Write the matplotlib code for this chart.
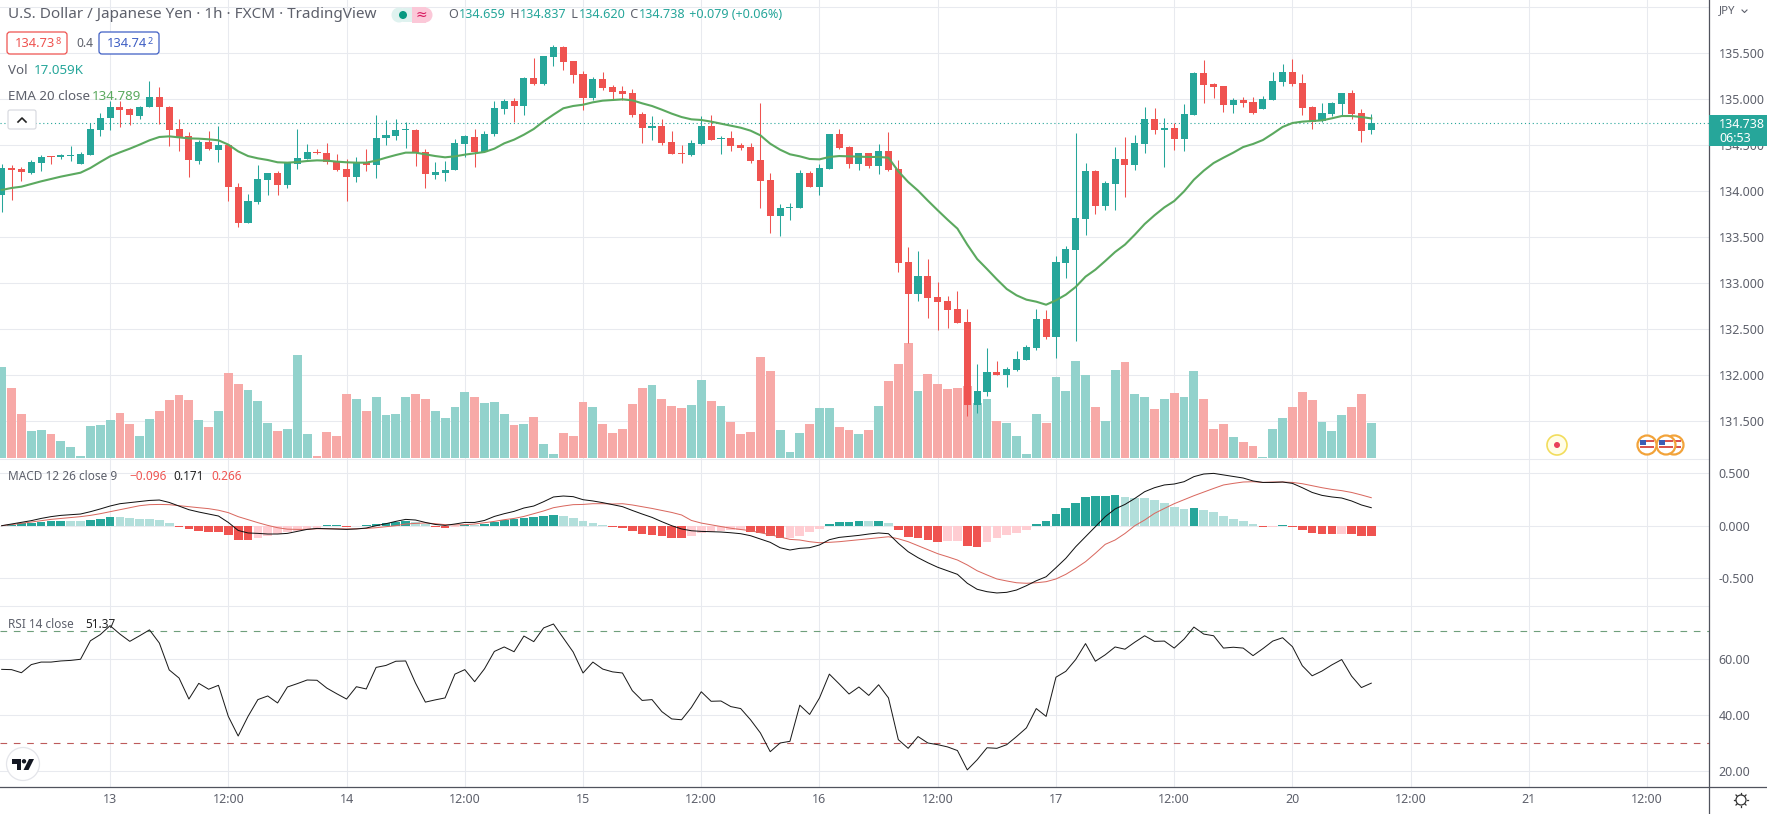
"""USD/JPY 1h chart with volume, EMA, MACD and RSI panes."""

import matplotlib
matplotlib.use("Agg")
import matplotlib.pyplot as plt
from matplotlib.patches import Rectangle, Circle, FancyBboxPatch, Polygon

plt.rcParams["font.family"] = ["Noto Sans", "DejaVu Sans"]

opens = [
    133.96, 134.254, 134.243, 134.196, 134.308, 134.377, 134.366, 134.377, 134.297, 134.395,
    134.667, 134.790, 134.913, 134.891, 134.819, 134.909, 135.022, 134.917, 134.674, 134.601,
    134.330, 134.533, 134.449, 134.504, 134.047, 133.649, 133.884, 134.123, 134.199, 134.062,
    134.290, 134.348, 134.428, 134.417, 134.322, 134.243, 134.149, 134.312, 134.279, 134.572,
    134.601, 134.659, 134.667, 134.424, 134.178, 134.199, 134.225, 134.514, 134.587, 134.420,
    134.616, 134.895, 134.982, 134.928, 135.232, 135.167, 135.460, 135.569, 135.417, 135.275,
    135.011, 135.221, 135.134, 135.091, 135.069, 134.841, 134.688, 134.710, 134.533, 134.413,
    134.395, 134.514, 134.710, 134.565, 134.580, 134.504, 134.482, 134.341, 134.123, 133.732,
    133.815, 133.819, 134.196, 134.047, 134.243, 134.623, 134.482, 134.297, 134.417, 134.275,
    134.438, 134.243, 133.232, 132.884, 133.080, 132.851, 132.808, 132.721, 132.580, 131.678,
    131.819, 132.036, 132.004, 132.058, 132.167, 132.297, 132.612, 132.417, 133.221, 133.362,
    133.699, 134.221, 133.841, 134.080, 134.351, 134.286, 134.514, 134.786, 134.667, 134.688,
    134.569, 134.830, 135.286, 135.167, 135.145, 134.938, 134.993, 134.971, 134.895, 134.993,
    135.188, 135.297, 135.178, 134.917, 134.761, 134.841, 134.949, 135.069, 134.851, 134.659,
]
highs = [
    134.297, 134.286, 134.257, 134.341, 134.395, 134.384, 134.406, 134.493, 134.424, 134.739,
    134.848, 134.975, 134.975, 134.902, 134.920, 135.199, 135.130, 134.928, 134.783, 134.641,
    134.551, 134.656, 134.710, 134.514, 134.087, 133.967, 134.286, 134.199, 134.217, 134.312,
    134.678, 134.511, 134.457, 134.522, 134.406, 134.348, 134.370, 134.460, 134.830, 134.768,
    134.783, 134.750, 134.674, 134.457, 134.315, 134.322, 134.565, 134.612, 134.674, 134.656,
    134.982, 135.000, 135.011, 135.243, 135.449, 135.471, 135.591, 135.572, 135.417, 135.301,
    135.239, 135.297, 135.156, 135.145, 135.109, 134.862, 134.819, 134.786, 134.652, 134.500,
    134.558, 134.819, 134.830, 134.601, 134.656, 134.525, 134.525, 134.960, 134.196, 133.862,
    133.873, 134.232, 134.221, 134.297, 134.623, 134.678, 134.493, 134.417, 134.417, 134.514,
    134.645, 134.341, 133.395, 133.351, 133.264, 133.014, 132.862, 132.917, 132.717, 132.120,
    132.297, 132.156, 132.091, 132.264, 132.330, 132.721, 132.710, 133.297, 133.406, 134.634,
    134.308, 134.232, 134.112, 134.482, 134.591, 134.612, 134.917, 134.906, 134.797, 134.743,
    134.949, 135.297, 135.428, 135.178, 135.145, 135.014, 135.025, 135.025, 135.036, 135.297,
    135.384, 135.438, 135.275, 134.928, 134.960, 134.971, 135.069, 135.101, 134.895, 134.837,
]
lows = [
    133.768, 133.899, 134.112, 134.181, 134.221, 134.297, 134.348, 134.322, 134.297, 134.395,
    134.594, 134.667, 134.692, 134.721, 134.786, 134.909, 134.728, 134.486, 134.431, 134.149,
    134.297, 134.449, 134.312, 133.888, 133.605, 133.649, 133.855, 133.960, 133.953, 134.029,
    134.236, 134.348, 134.402, 134.293, 134.214, 133.888, 134.094, 134.214, 134.141, 134.496,
    134.551, 134.467, 134.268, 134.029, 134.134, 134.112, 134.225, 134.370, 134.257, 134.420,
    134.601, 134.841, 134.754, 134.830, 135.149, 135.149, 135.362, 135.319, 135.178, 134.884,
    134.993, 135.094, 134.996, 134.993, 134.808, 134.525, 134.558, 134.504, 134.399, 134.308,
    134.384, 134.504, 134.558, 134.406, 134.438, 134.442, 134.308, 133.819, 133.547, 133.514,
    133.688, 133.819, 134.047, 133.960, 134.243, 134.460, 134.254, 134.232, 134.254, 134.188,
    134.221, 133.123, 132.348, 132.808, 132.623, 132.493, 132.514, 132.569, 131.551, 131.587,
    131.768, 132.004, 131.873, 132.047, 132.167, 132.275, 132.395, 132.188, 133.058, 132.373,
    133.525, 133.754, 133.797, 133.797, 133.938, 134.232, 134.417, 134.623, 134.264, 134.449,
    134.438, 134.830, 134.960, 135.014, 134.862, 134.851, 134.917, 134.841, 134.895, 134.993,
    135.138, 135.145, 134.830, 134.678, 134.754, 134.819, 134.830, 134.786, 134.536, 134.620,
]
closes = [
    134.25, 134.232, 134.203, 134.315, 134.373, 134.366, 134.388, 134.395, 134.402, 134.674,
    134.797, 134.913, 134.884, 134.822, 134.917, 135.022, 134.909, 134.667, 134.587, 134.333,
    134.536, 134.453, 134.500, 134.040, 133.649, 133.895, 134.134, 134.199, 134.062, 134.301,
    134.359, 134.424, 134.409, 134.312, 134.232, 134.149, 134.312, 134.279, 134.580, 134.612,
    134.663, 134.670, 134.417, 134.181, 134.210, 134.228, 134.525, 134.594, 134.428, 134.623,
    134.906, 134.982, 134.928, 135.232, 135.167, 135.471, 135.569, 135.406, 135.264, 135.014,
    135.221, 135.123, 135.080, 135.058, 134.830, 134.688, 134.707, 134.522, 134.406, 134.399,
    134.525, 134.710, 134.558, 134.580, 134.493, 134.471, 134.330, 134.112, 133.732, 133.819,
    133.830, 134.199, 134.047, 134.254, 134.623, 134.471, 134.297, 134.417, 134.275, 134.438,
    134.232, 133.221, 132.884, 133.080, 132.841, 132.797, 132.710, 132.569, 131.678, 131.830,
    132.036, 132.004, 132.069, 132.178, 132.308, 132.612, 132.417, 133.232, 133.373, 133.710,
    134.221, 133.841, 134.091, 134.351, 134.286, 134.525, 134.786, 134.667, 134.685, 134.569,
    134.841, 135.286, 135.156, 135.134, 134.938, 134.993, 134.960, 134.851, 135.004, 135.199,
    135.297, 135.167, 134.906, 134.754, 134.851, 134.960, 135.069, 134.841, 134.656, 134.738,
]
ema20 = [
    134.011, 134.033, 134.047, 134.076, 134.105, 134.130, 134.156, 134.178, 134.199, 134.250,
    134.315, 134.377, 134.420, 134.460, 134.504, 134.551, 134.587, 134.594, 134.583, 134.572,
    134.569, 134.562, 134.551, 134.504, 134.431, 134.380, 134.355, 134.337, 134.312, 134.308,
    134.315, 134.326, 134.333, 134.330, 134.319, 134.312, 134.308, 134.308, 134.330, 134.362,
    134.391, 134.417, 134.417, 134.399, 134.380, 134.366, 134.377, 134.395, 134.409, 134.424,
    134.460, 134.518, 134.558, 134.612, 134.674, 134.757, 134.830, 134.899, 134.924, 134.938,
    134.964, 134.982, 134.989, 134.996, 134.986, 134.953, 134.924, 134.884, 134.841, 134.804,
    134.779, 134.772, 134.754, 134.732, 134.710, 134.688, 134.656, 134.605, 134.514, 134.449,
    134.399, 134.377, 134.348, 134.344, 134.370, 134.380, 134.377, 134.373, 134.370, 134.370,
    134.362, 134.214, 134.098, 134.004, 133.895, 133.790, 133.688, 133.591, 133.417, 133.261,
    133.152, 133.040, 132.935, 132.866, 132.819, 132.797, 132.764, 132.812, 132.873, 132.957,
    133.069, 133.145, 133.239, 133.337, 133.417, 133.525, 133.641, 133.736, 133.822, 133.891,
    133.996, 134.123, 134.221, 134.304, 134.362, 134.417, 134.478, 134.511, 134.554, 134.623,
    134.696, 134.739, 134.754, 134.761, 134.768, 134.790, 134.815, 134.815, 134.804, 134.789,
]
volume_k = [
    44.3, 34.1, 21.4, 13.1, 13.6, 11.7, 8.3, 5.4, 1.0, 15.6,
    16.1, 18.5, 21.9, 16.6, 10.7, 19.0, 22.9, 28.2, 30.7, 28.2,
    18.5, 15.1, 22.9, 41.4, 36.0, 33.1, 27.8, 17.0, 13.1, 14.1,
    50.2, 11.7, 1.0, 12.7, 10.7, 31.2, 28.7, 22.9, 29.7, 20.9,
    21.4, 29.7, 31.2, 28.7, 22.9, 19.5, 24.8, 32.1, 29.7, 26.8,
    27.3, 21.4, 16.1, 16.6, 20.0, 6.8, 1.9, 12.2, 10.7, 27.3,
    24.8, 16.6, 12.2, 14.1, 26.3, 34.1, 35.6, 28.7, 25.3, 24.4,
    25.8, 38.0, 27.8, 25.3, 17.5, 11.7, 12.7, 49.2, 42.4, 13.6,
    2.9, 12.2, 16.6, 24.4, 24.4, 15.1, 13.6, 11.7, 13.6, 25.3,
    37.5, 45.8, 56.0, 32.6, 40.9, 36.0, 33.6, 34.1, 35.1, 26.8,
    28.7, 18.0, 17.0, 10.7, 1.9, 21.4, 17.0, 39.4, 32.6, 47.2,
    40.4, 24.8, 18.0, 42.9, 46.8, 31.2, 29.7, 23.9, 28.7, 31.7,
    29.7, 42.4, 28.7, 14.1, 16.6, 10.2, 7.8, 5.8, 0.5, 14.1,
    19.5, 24.8, 32.1, 28.2, 17.5, 13.1, 20.9, 24.8, 31.2, 17.059,
]
macd_line = [
    0.000, 0.016, 0.031, 0.048, 0.069, 0.086, 0.098, 0.105, 0.111, 0.133,
    0.159, 0.187, 0.209, 0.219, 0.228, 0.240, 0.244, 0.221, 0.187, 0.152,
    0.130, 0.111, 0.092, 0.031, -0.045, -0.069, -0.073, -0.079, -0.079, -0.073,
    -0.054, -0.035, -0.026, -0.029, -0.031, -0.035, -0.031, -0.022, 0.000, 0.019,
    0.041, 0.060, 0.054, 0.031, 0.012, 0.003, 0.016, 0.031, 0.031, 0.050,
    0.088, 0.114, 0.136, 0.168, 0.187, 0.228, 0.273, 0.282, 0.276, 0.247,
    0.235, 0.219, 0.200, 0.181, 0.145, 0.111, 0.079, 0.038, 0.000, -0.031,
    -0.048, -0.054, -0.057, -0.060, -0.067, -0.076, -0.095, -0.126, -0.158, -0.209,
    -0.231, -0.215, -0.209, -0.183, -0.133, -0.111, -0.102, -0.092, -0.079, -0.069,
    -0.076, -0.167, -0.247, -0.304, -0.352, -0.395, -0.428, -0.462, -0.547, -0.604,
    -0.627, -0.639, -0.633, -0.611, -0.570, -0.523, -0.485, -0.399, -0.310, -0.200,
    -0.105, -0.010, 0.086, 0.159, 0.202, 0.259, 0.323, 0.361, 0.387, 0.396,
    0.418, 0.466, 0.491, 0.497, 0.482, 0.468, 0.453, 0.425, 0.411, 0.411,
    0.415, 0.402, 0.361, 0.316, 0.288, 0.273, 0.263, 0.235, 0.197, 0.171,
]
signal_line = [
    0.000, 0.010, 0.022, 0.035, 0.048, 0.060, 0.069, 0.079, 0.086, 0.098,
    0.114, 0.133, 0.152, 0.171, 0.190, 0.200, 0.202, 0.200, 0.190, 0.181,
    0.171, 0.162, 0.147, 0.124, 0.086, 0.057, 0.029, 0.003, -0.019, -0.033,
    -0.035, -0.035, -0.029, -0.029, -0.029, -0.031, -0.029, -0.026, -0.019, -0.010,
    0.000, 0.016, 0.022, 0.026, 0.019, 0.010, 0.007, 0.010, 0.016, 0.029,
    0.041, 0.057, 0.069, 0.088, 0.114, 0.140, 0.171, 0.187, 0.200, 0.202,
    0.209, 0.209, 0.206, 0.209, 0.197, 0.181, 0.164, 0.145, 0.126, 0.102,
    0.050, 0.025, 0.008, -0.008, -0.024, -0.036, -0.048, -0.067, -0.086, -0.107,
    -0.130, -0.136, -0.152, -0.162, -0.158, -0.152, -0.143, -0.133, -0.124, -0.114,
    -0.105, -0.124, -0.152, -0.190, -0.228, -0.266, -0.295, -0.326, -0.373, -0.428,
    -0.468, -0.506, -0.525, -0.542, -0.547, -0.542, -0.532, -0.506, -0.462, -0.405,
    -0.342, -0.262, -0.177, -0.136, -0.074, 0.000, 0.054, 0.117, 0.164, 0.209,
    0.247, 0.285, 0.320, 0.354, 0.387, 0.402, 0.415, 0.418, 0.411, 0.415,
    0.415, 0.411, 0.399, 0.380, 0.361, 0.345, 0.333, 0.316, 0.292, 0.266,
]
macd_hist = [
    0.000, 0.010, 0.028, 0.030, 0.038, 0.040, 0.048, 0.047, 0.046, 0.057,
    0.067, 0.085, 0.084, 0.076, 0.067, 0.066, 0.057, 0.028, -0.010, -0.028,
    -0.048, -0.057, -0.058, -0.086, -0.133, -0.134, -0.114, -0.095, -0.076, -0.057,
    -0.048, -0.038, -0.019, 0.010, 0.011, -0.014, -0.005, 0.005, 0.019, 0.029,
    0.033, 0.048, 0.038, 0.019, -0.010, -0.024, -0.014, 0.010, 0.009, 0.019,
    0.038, 0.057, 0.067, 0.076, 0.086, 0.095, 0.105, 0.095, 0.076, 0.048,
    0.028, 0.010, -0.010, -0.024, -0.048, -0.076, -0.086, -0.095, -0.114, -0.119,
    -0.095, -0.071, -0.057, -0.048, -0.038, -0.037, -0.057, -0.067, -0.095, -0.114,
    -0.113, -0.095, -0.057, -0.029, 0.014, 0.033, 0.038, 0.048, 0.046, 0.048,
    0.029, -0.043, -0.105, -0.114, -0.133, -0.152, -0.147, -0.143, -0.190, -0.204,
    -0.152, -0.114, -0.086, -0.071, -0.043, 0.019, 0.043, 0.114, 0.171, 0.219,
    0.276, 0.280, 0.285, 0.295, 0.276, 0.266, 0.261, 0.247, 0.219, 0.181,
    0.162, 0.171, 0.152, 0.133, 0.088, 0.060, 0.041, 0.012, -0.012, -0.010,
    0.005, -0.014, -0.043, -0.069, -0.079, -0.080, -0.078, -0.081, -0.095, -0.096,
]
rsi_values = [
    56.3, 56.2, 55.1, 58.0, 58.9, 58.9, 59.3, 59.5, 59.9, 66.5,
    68.7, 71.9, 68.9, 66.3, 68.3, 70.4, 65.7, 56.1, 53.2, 45.7,
    51.3, 49.2, 50.6, 39.5, 32.5, 39.5, 45.5, 46.8, 44.3, 50.0,
    51.2, 52.5, 52.4, 49.6, 47.6, 45.7, 50.1, 49.3, 57.0, 57.7,
    59.2, 59.3, 51.4, 44.6, 45.4, 46.1, 54.6, 56.2, 51.9, 56.5,
    62.7, 64.3, 62.6, 68.2, 66.2, 71.1, 72.5, 67.5, 62.5, 55.0,
    58.9, 56.4, 55.4, 55.0, 48.7, 45.2, 45.5, 41.2, 38.6, 38.3,
    42.7, 48.3, 44.9, 45.0, 43.0, 42.3, 38.3, 33.6, 26.9, 30.0,
    30.6, 43.5, 40.2, 46.1, 54.6, 51.1, 47.5, 50.0, 47.0, 50.8,
    46.1, 31.2, 28.1, 32.3, 30.0, 29.4, 28.6, 27.3, 20.4, 24.0,
    28.3, 28.1, 29.4, 32.3, 35.4, 42.3, 39.5, 53.5, 55.6, 59.8,
    65.5, 59.2, 61.5, 64.3, 63.5, 66.0, 68.3, 66.3, 66.4, 63.9,
    67.1, 71.4, 68.9, 68.3, 63.9, 64.2, 63.9, 61.2, 63.7, 66.4,
    67.6, 64.4, 57.6, 54.0, 55.7, 57.9, 59.8, 53.9, 49.8, 51.37,
]
assert all(len(s) == 140 for s in (opens, highs, lows, closes, ema20, volume_k,
                                   macd_line, signal_line, macd_hist, rsi_values))

time_ticks = [11, 23, 35, 47, 59, 71, 83, 95, 107, 119, 131, 143, 155, 167]
time_labels = ["13", "12:00", "14", "12:00", "15", "12:00", "16", "12:00",
               "17", "12:00", "20", "12:00", "21", "12:00"]
price_ticks = [131.5, 132.0, 132.5, 133.0, 133.5, 134.0, 134.5, 135.0, 135.5, 136.0]
price_labels = ["131.500", "132.000", "132.500", "133.000", "133.500",
                "134.000", "134.500", "135.000", "135.500", ""]
macd_ticks = [-0.5, 0.0, 0.5]
macd_labels = ["-0.500", "0.000", "0.500"]
rsi_ticks = [20, 40, 60]
rsi_labels = ["20.00", "40.00", "60.00"]

UP = "#26a69a"
DOWN = "#ef5350"
GRID = "#e8eaef"
TEXT = "#5d606b"
W, H = 1767, 814
AXIS_X = 1709
X0, DX = 1.7, 9.853


def pane(top, bottom):
    """Axes spanning the chart width between two pixel rows."""
    ax = fig.add_axes([0, 1 - bottom / H, AXIS_X / W, (bottom - top) / H])
    ax.set_xlim(-X0 / DX, (AXIS_X - X0) / DX)
    for side in ["left", "right", "bottom"]:
        ax.spines[side].set_visible(False)
    ax.spines["top"].set_color(GRID)
    ax.spines["top"].set_linewidth(0.75)
    ax.set_xticks(time_ticks)
    ax.grid(True, color=GRID, linewidth=0.75)
    ax.set_axisbelow(True)
    ax.tick_params(axis="both", length=0, labelbottom=False, labelleft=False,
                   labelright=True, right=False, left=False, pad=7,
                   labelsize=9, labelcolor=TEXT)
    ax.yaxis.tick_right()
    return ax


fig = plt.figure(figsize=(W / 100, H / 100), dpi=100, facecolor="white")
idx = list(range(len(closes)))
rising = [c >= o for o, c in zip(opens, closes)]

# --- price pane: grid below, then volume, then candles ---
MAIN_BOTTOM = 458.5
ax_main = pane(0, MAIN_BOTTOM)
ax_main.spines["top"].set_visible(False)
ax_main.set_ylim(135 - (MAIN_BOTTOM - 99) / 92, 135 + 99 / 92)
ax_vol = ax_main.twinx()
ax_vol.set_ylim(-0.2, MAIN_BOTTOM * 0.487)
ax_vol.axis("off")
ax_candles = ax_main.twinx()
ax_candles.set_ylim(ax_main.get_ylim())
ax_candles.axis("off")
ax_main.set_yticks(price_ticks)
ax_main.set_yticklabels(price_labels)
ax_main.yaxis.tick_right()
ax_main.tick_params(axis="y", length=0, right=False, labelright=True)

ax_vol.bar(idx, volume_k, width=0.9, linewidth=0,
           color=["#92d2cc" if r else "#f7a9a7" for r in rising])

candle_colors = [UP if r else DOWN for r in rising]
ax_candles.vlines(idx, lows, highs, colors=candle_colors, linewidth=0.75)
ax_candles.bar(idx, [max(abs(c - o), 0.012) for o, c in zip(opens, closes)],
               bottom=[min(o, c) for o, c in zip(opens, closes)],
               width=0.72, color=candle_colors, linewidth=0)
ax_candles.plot(idx, ema20, color="#5ba95f", linewidth=1.5, solid_joinstyle="round")
ax_candles.axhline(closes[-1], color=UP, linewidth=0.8, linestyle=(0, (1, 2.5)), zorder=0.5)

# --- MACD pane ---
ax_macd = pane(MAIN_BOTTOM, 606)
ax_macd.set_ylim((525.7 - 606) * 0.0095, (525.7 - MAIN_BOTTOM) * 0.0095)
ax_macd.set_yticks(macd_ticks)
ax_macd.set_yticklabels(macd_labels)
hist_colors = []
for i, v in enumerate(macd_hist):
    prev = macd_hist[i - 1] if i else 0
    if v >= 0:
        hist_colors.append(UP if v >= prev else "#b2dfdb")
    else:
        hist_colors.append(DOWN if v < prev else "#ffcdd2")
ax_macd.bar(idx, macd_hist, width=0.88, color=hist_colors, linewidth=0)
ax_macd.plot(idx, signal_line, color="#d9685f", linewidth=0.72)
ax_macd.plot(idx, macd_line, color="#111111", linewidth=0.72)

# --- RSI pane ---
ax_rsi = pane(606, 787)
ax_rsi.set_ylim(70 - (787 - 631) / 2.8, 70 + (631 - 606) / 2.8)
ax_rsi.set_yticks(rsi_ticks)
ax_rsi.set_yticklabels(rsi_labels)
ax_rsi.set_xticklabels(time_labels)
ax_rsi.tick_params(axis="x", labelbottom=True, pad=4, labelsize=9, labelcolor=TEXT)
ax_rsi.axhline(70, color="#6f9f7c", linewidth=0.8, linestyle=(0, (6, 6)))
ax_rsi.axhline(30, color="#bd5b5b", linewidth=0.8, linestyle=(0, (6, 6)))
ax_rsi.plot(idx, rsi_values, color="#1a1a1a", linewidth=0.72)

# --- overlay in pixel coordinates for the terminal furniture ---
ov = fig.add_axes([0, 0, 1, 1], zorder=20)
ov.set_xlim(0, W)
ov.set_ylim(H, 0)
ov.axis("off")
ov.patch.set_visible(False)

ov.plot([AXIS_X, AXIS_X], [0, H], color="#50535e", linewidth=0.9)
ov.plot([0, W], [787, 787], color="#50535e", linewidth=0.9)


def run_text(x, y, pieces, size=10):
    """Write coloured pieces one after the other and return the end x."""
    renderer = fig.canvas.get_renderer()
    for s, color in pieces:
        t = ov.text(x, y, s, color=color, fontsize=size, va="center", ha="left")
        x = t.get_window_extent(renderer).x1 + 1
    return x


run_text(8, 15, [("U.S. Dollar / Japanese Yen · 1h · FXCM · TradingView", TEXT)], size=11)
ov.add_patch(FancyBboxPatch((398, 8), 28, 14, boxstyle="round,pad=0,rounding_size=7",
                            facecolor="#dff2ef", edgecolor="none",
                            mutation_aspect=1))
ov.add_patch(Rectangle((412, 7), 14, 16, facecolor="#fbc8d8", edgecolor="none"))
ov.add_patch(Circle((425, 15), 7.5, facecolor="#fbc8d8", edgecolor="none"))
ov.add_patch(Circle((399, 15), 7.5, facecolor="#dff2ef", edgecolor="none"))
ov.add_patch(Circle((403, 15), 4, facecolor="#089981", edgecolor="none"))
ov.text(421, 15, "≈", color="#d81b60", fontsize=10, ha="center", va="center")
run_text(448, 15, [("O", TEXT), ("134.659", UP), (" H", TEXT), ("134.837", UP), (" L", TEXT),
                   ("134.620", UP), (" C", TEXT), ("134.738", UP), (" +0.079 (+0.06%)", UP)],
         size=9.1)

# bid / ask boxes
for x0, color, main, tail in [(7, DOWN, "134.73", "8"), (99, "#3f5fc4", "134.74", "2")]:
    ov.add_patch(FancyBboxPatch((x0, 32), 60, 22, boxstyle="round,pad=0,rounding_size=3",
                                facecolor="white", edgecolor=color, linewidth=0.9))
    end = run_text(x0 + 8, 43.5, [(main, color)], size=9.3)
    ov.text(end - 1, 41, tail, color=color, fontsize=6.5, va="center", ha="left")
ov.text(76, 43.5, "0.4", color=TEXT, fontsize=8.6, va="center", ha="left")

run_text(8, 71, [("Vol", TEXT)], size=9.6)
run_text(34, 71, [("17.059K", UP)], size=9.6)
run_text(8, 96, [("EMA 20 close", TEXT)], size=9.6)
run_text(92, 96, [("134.789", "#5ba95f")], size=9.6)

ov.add_patch(FancyBboxPatch((8, 110), 28, 19, boxstyle="round,pad=0,rounding_size=2",
                            facecolor="white", edgecolor="#d5d7dd", linewidth=0.8))
ov.plot([18, 22, 26], [122, 118, 122], color="#222222", linewidth=1.2)

run_text(8, 476, [("MACD 12 26 close 9", TEXT)], size=8.5)
run_text(129, 476, [("−0.096", DOWN)], size=8.5)
run_text(173, 476, [("0.171", "#222222")], size=8.5)
run_text(211, 476, [("0.266", DOWN)], size=8.5)
run_text(8, 624, [("RSI 14 close", TEXT)], size=8.5)
run_text(85, 624, [("51.37", "#222222")], size=8.5)

# currency label and last price tag on the scale
ov.text(1719, 11, "JPY", color=TEXT, fontsize=8.2, va="center", ha="left")
ov.plot([1742, 1744.5, 1747], [10, 12.5, 10], color=TEXT, linewidth=0.8)
ov.add_patch(Rectangle((AXIS_X, 115), W - AXIS_X, 31, facecolor=UP, edgecolor="none", zorder=5))
ov.text(1719, 124, "134.738", color="white", fontsize=9, va="center", ha="left", zorder=6)
ov.text(1719, 138, "06:53", color="white", fontsize=9, va="center", ha="left", zorder=6)

# logo
ov.add_patch(Circle((23, 764), 16.5, facecolor="white", edgecolor="#e4e5ea", linewidth=0.9))
ov.add_patch(Polygon([(12, 759), (21, 759), (21, 770), (16.5, 770), (16.5, 763.5), (12, 763.5)],
                     facecolor="#131722", edgecolor="none"))
ov.add_patch(Circle((24, 761.3), 2.2, facecolor="#131722", edgecolor="none"))
ov.add_patch(Polygon([(29, 759), (34, 759), (28.5, 770), (23.5, 770)],
                     facecolor="#131722", edgecolor="none"))

# settings wheel
ov.add_patch(Circle((1741, 800), 5, facecolor="none", edgecolor="#333333", linewidth=0.9))
for dx, dy in [(0, -7), (0, 7), (-7, 0), (7, 0), (-5, -5), (5, -5), (-5, 5), (5, 5)]:
    ov.plot([1741 + dx * 0.8, 1741 + dx], [800 + dy * 0.8, 800 + dy],
            color="#333333", linewidth=0.9)

# calendar events on the volume row
ov.add_patch(Circle((1557, 445), 10, facecolor="#fffde7", edgecolor="#f2dd5c", linewidth=1.2))
ov.add_patch(Circle((1557, 445), 3, facecolor="#e8425a", edgecolor="none"))
for ex in [1674, 1666, 1647]:
    ov.add_patch(Circle((ex, 445), 9.5, facecolor="white", edgecolor="#f2a33a", linewidth=1.6))
    ov.add_patch(Rectangle((ex - 7, 440), 6, 5, facecolor="#3b5bb5", edgecolor="none"))
    ov.add_patch(Rectangle((ex - 1, 440), 8, 2, facecolor="#d9534f", edgecolor="none"))
    ov.add_patch(Rectangle((ex - 7, 446), 14, 2, facecolor="#d9534f", edgecolor="none"))

fig.savefig("out.png", dpi=100)
